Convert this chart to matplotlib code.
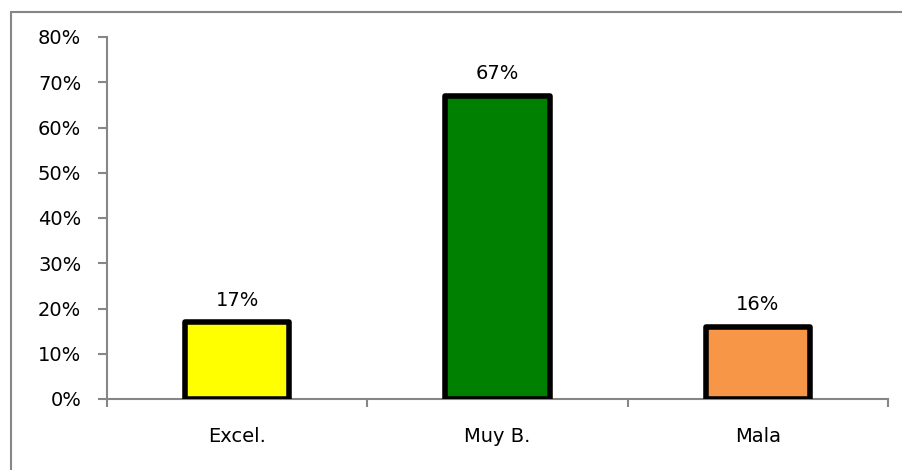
import matplotlib
matplotlib.use("Agg")
import matplotlib.pyplot as plt
from matplotlib.patches import Rectangle
from matplotlib.ticker import FuncFormatter, FixedLocator

categories = ["Excel.", "Muy B.", "Mala"]
values = [0.17, 0.67, 0.16]
labels = ["17%", "67%", "16%"]
colors = ["#FFFF00", "#008000", "#F79646"]
yticks = [0, 0.1, 0.2, 0.3, 0.4, 0.5, 0.6, 0.7, 0.8]

plt.rcParams['font.family'] = ['DejaVu Sans']
fig = plt.figure(figsize=(9.03, 4.70), dpi=100)
W, H = 903, 470
ax = fig.add_axes([107 / W, 1 - 399 / H, (888 - 107) / W, (399 - 37) / H])

x = list(range(len(categories)))
bars = ax.bar(x, values, width=0.4, color=colors, edgecolor="black", linewidth=4, zorder=3)
for b in bars:
    b.set_joinstyle("round")
for xi, v, lab in zip(x, values, labels):
    ax.annotate(lab, (xi, v), xytext=(0, 9), textcoords="offset points",
                ha="center", va="bottom", fontsize=14)

ax.set_xlim(-0.5, 2.5)
ax.set_ylim(0, 0.8)
ax.set_yticks(yticks)
ax.yaxis.set_major_formatter(FuncFormatter(lambda v, p: f"{round(v*100)}%"))
ax.set_xticks(x)
ax.set_xticklabels(categories, fontsize=14)
ax.xaxis.set_minor_locator(FixedLocator([-0.5, 0.5, 1.5, 2.5]))
ax.tick_params(axis="x", which="major", length=0, pad=20)
ax.tick_params(axis="x", which="minor", length=6, color="#868686", width=1.5)
ax.tick_params(axis="y", length=6.5, color="#868686", width=1.5, labelsize=14, pad=12)
for s in ["top", "right"]:
    ax.spines[s].set_visible(False)
for s in ["left", "bottom"]:
    ax.spines[s].set_color("#868686")
    ax.spines[s].set_linewidth(1.5)

fig.patches.append(Rectangle((11 / W, -0.1), 1.2, 1 - 12 / H + 0.1, transform=fig.transFigure,
                             fill=False, edgecolor="#868686", linewidth=1.5))

fig.savefig("out.png", dpi=100)
